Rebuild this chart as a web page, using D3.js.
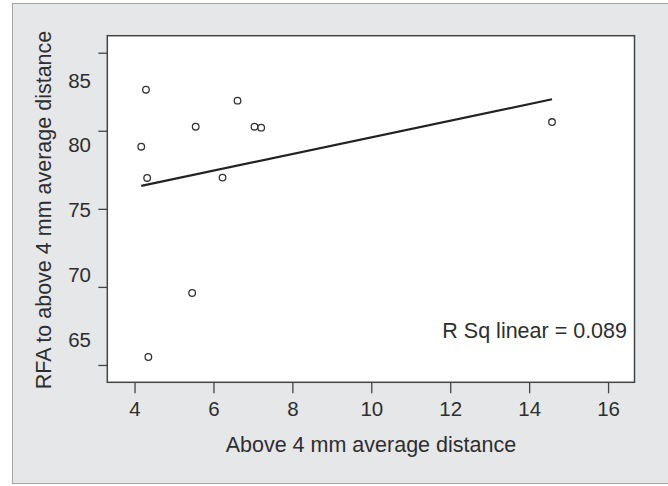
<!DOCTYPE html>
<html>
<head>
<meta charset="utf-8">
<script src="https://cdn.jsdelivr.net/npm/d3@7"></script>
<style>
  body { margin: 0; background: #fff; }
  svg text { font-family: "Liberation Sans", Arial, sans-serif; fill: #2e2e2e; }
</style>
</head>
<body>
<div id="chart"></div>
<script>
// above 4 mm average distance (x) vs RFA to above 4 mm average distance (y)
var xVals = [4.29, 6.61, 5.55, 7.04, 7.21, 4.17, 4.32, 6.23, 5.46, 4.35, 14.58];
var yVals = [82.63, 81.93, 80.26, 80.26, 80.20, 78.98, 76.98, 77.00, 69.61, 65.51, 80.56];
var xTicks = [4, 6, 8, 10, 12, 14, 16];
var yTicks = [85, 80, 75, 70, 65];
var rsqLabel = "R Sq linear = 0.089";

var W = 668, H = 486;
var plot = { left: 107.3, top: 35.7, right: 634.5, bottom: 382.3 };

var svg = d3.select("#chart").append("svg")
    .attr("width", W)
    .attr("height", H);

// grey panel behind the chart
svg.append("rect")
    .attr("x", 12.5).attr("y", 3.5)
    .attr("width", W).attr("height", 480)
    .attr("fill", "#e6e7e9")
    .attr("stroke", "#a5a5a5")
    .attr("stroke-width", 1);

var x = d3.scaleLinear().domain([3.31, 16.67]).range([plot.left, plot.right]);
var y = d3.scaleLinear().domain([63.89, 86.09]).range([plot.bottom, plot.top]);
// the y labels in the figure sit on a tighter spacing than the tick marks
var yLab = d3.scaleLinear().domain([85, 65]).range([80.5, 339.5]);

svg.append("rect")
    .attr("x", plot.left).attr("y", plot.top)
    .attr("width", plot.right - plot.left)
    .attr("height", plot.bottom - plot.top)
    .attr("fill", "#fff")
    .attr("stroke", "#444")
    .attr("stroke-width", 1.5);

// x axis
var xAxis = svg.append("g")
    .attr("transform", "translate(0," + plot.bottom + ")")
    .call(d3.axisBottom(x).tickValues(xTicks).tickSize(11).tickPadding(8));
xAxis.select(".domain").remove();
xAxis.selectAll(".tick line").attr("stroke", "#444").attr("stroke-width", 1.3);
xAxis.selectAll(".tick text")
    .style("font-size", "20.5px")
    .attr("fill", "#2e2e2e");

// y axis (tick marks only, labels drawn separately)
var yAxis = svg.append("g")
    .attr("transform", "translate(" + plot.left + ",0)")
    .call(d3.axisLeft(y).tickValues(yTicks).tickSize(9).tickFormat(""));
yAxis.select(".domain").remove();
yAxis.selectAll(".tick line").attr("stroke", "#444").attr("stroke-width", 1.3);

svg.selectAll(".ylab")
    .data(yTicks)
    .enter()
    .append("text")
    .attr("class", "ylab")
    .attr("x", 91)
    .attr("y", function (d) { return yLab(d); })
    .attr("dy", "0.35em")
    .attr("text-anchor", "end")
    .style("font-size", "20.5px")
    .text(function (d) { return d; });

// axis titles
svg.append("text")
    .attr("x", (plot.left + plot.right) / 2)
    .attr("y", 451.5)
    .attr("text-anchor", "middle")
    .style("font-size", "21.5px")
    .text("Above 4 mm average distance");

svg.append("text")
    .attr("transform", "translate(50.5,210) rotate(-90)")
    .attr("text-anchor", "middle")
    .style("font-size", "21.5px")
    .text("RFA to above 4 mm average distance");

// least squares fit line over the data range
var mx = d3.mean(xVals), my = d3.mean(yVals);
var sxy = d3.sum(xVals, function (v, i) { return (v - mx) * (yVals[i] - my); });
var sxx = d3.sum(xVals, function (v) { return (v - mx) * (v - mx); });
var slope = sxy / sxx, icpt = my - slope * mx;
var xr = d3.extent(xVals);

svg.append("path")
    .datum(xr)
    .attr("d", d3.line()
        .x(function (d) { return x(d); })
        .y(function (d) { return y(icpt + slope * d); }))
    .attr("fill", "none")
    .attr("stroke", "#222")
    .attr("stroke-width", 2.2);

svg.selectAll(".pt")
    .data(xVals)
    .enter()
    .append("circle")
    .attr("class", "pt")
    .attr("cx", function (d) { return x(d); })
    .attr("cy", function (d, i) { return y(yVals[i]); })
    .attr("r", 3.3)
    .attr("fill", "#fff")
    .attr("stroke", "#333")
    .attr("stroke-width", 1.3);

svg.append("text")
    .attr("x", 627)
    .attr("y", 337.5)
    .attr("text-anchor", "end")
    .style("font-size", "21.5px")
    .text(rsqLabel);
</script>
</body>
</html>
